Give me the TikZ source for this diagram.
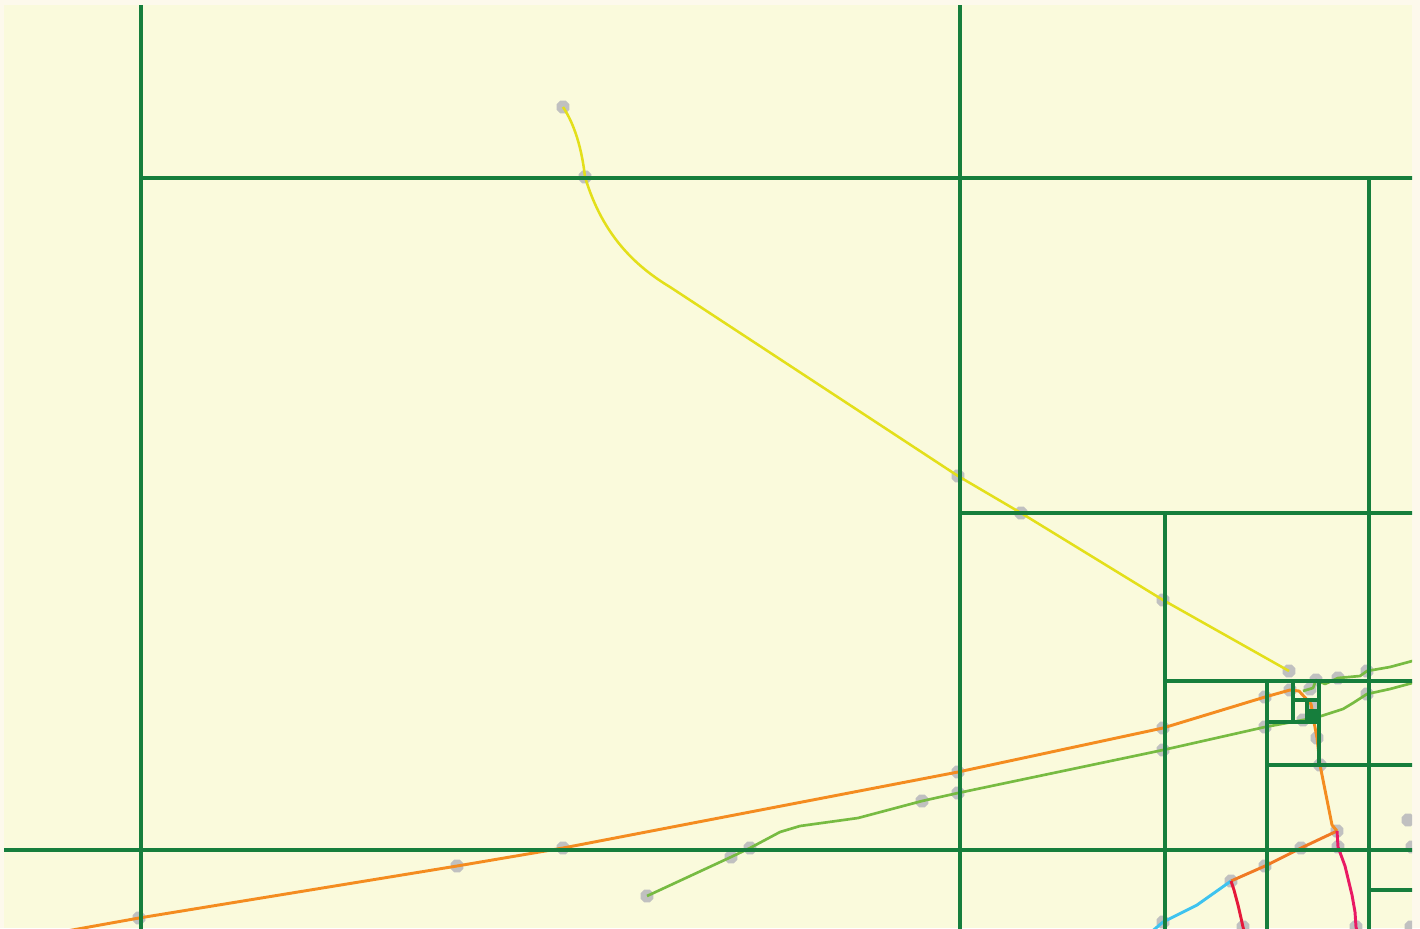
\documentclass[tikz,border=0pt]{standalone}
\usetikzlibrary{shapes.geometric}
\begin{document}
\begin{tikzpicture}[x=0.75pt,y=-0.75pt]
\definecolor{outerbg}{HTML}{FDF9EC}
\definecolor{innerbg}{HTML}{FAFADC}
\definecolor{gridgreen}{HTML}{167E3C}
\definecolor{markgray}{HTML}{C0C0C0}
\definecolor{lyellow}{HTML}{E3DF1A}
\definecolor{lorange}{HTML}{F48C20}
\definecolor{lorange2}{HTML}{F07A24}
\definecolor{lgreen}{HTML}{77BB42}
\definecolor{lblue}{HTML}{3EC3EF}
\definecolor{lred}{HTML}{E5193A}
\definecolor{lpink}{HTML}{E91A63}
\tikzset{
  mk/.style={regular polygon, regular polygon sides=8, fill=markgray, inner sep=0pt, minimum size=10.5pt},
  grid/.style={draw=gridgreen, line width=2.6pt},
  route/.style={line width=2.2pt, line join=round},
  yroute/.style={route, draw=lyellow, line width=1.9pt},
  oroute/.style={route, draw=lorange},
  oroute2/.style={route, draw=lorange2},
  groute/.style={route, draw=lgreen, line width=2pt},
  broute/.style={route, draw=lblue},
  rroute/.style={route, draw=lred},
  proute/.style={route, draw=lpink},
}
\fill[outerbg] (0,0) rectangle (1420,928);
\useasboundingbox (0,0) rectangle (1420,928);
\fill[innerbg] (4,5) rectangle (1412,928);
\begin{scope}
\clip (4,5) rectangle (1412,928);
% markers
\node[mk] (y1) at (563,107) {};
\node[mk] (y2) at (585,177) {};
\node[mk] (y3) at (958,476) {};
\node[mk] (y4) at (1021,513) {};
\node[mk] (y5) at (1163,600) {};
\node[mk] (y6) at (1289,671) {};
\node[mk] (o1) at (139,918) {};
\node[mk] (o2) at (457,866) {};
\node[mk] (o3) at (563,848) {};
\node[mk] (o4) at (958,772) {};
\node[mk] (o5) at (1163,728) {};
\node[mk] (o6) at (1265,697) {};
\node[mk] (o7) at (1290,690) {};
\node[mk] (o8) at (1317,738) {};
\node[mk] (o9) at (1320,765) {};
\node[mk] (o10) at (1337,831) {};
\node[mk] (o11) at (1301,848) {};
\node[mk] (o12) at (1265,866) {};
\node[mk] (o13) at (1231,881) {};
\node[mk] (g1) at (647,896) {};
\node[mk] (g2) at (731,857) {};
\node[mk] (g3) at (750,848) {};
\node[mk] (g4) at (922,801) {};
\node[mk] (g5) at (958,793) {};
\node[mk] (g6) at (1163,750) {};
\node[mk] (g7) at (1265,727) {};
\node[mk] (g8) at (1367,694) {};
\node[mk] (h1) at (1316,680) {};
\node[mk] (h2) at (1338,678) {};
\node[mk] (h3) at (1367,671) {};
\node[mk] (p1) at (1338,847) {};
\node[mk] (p2) at (1356,927) {};
\node[mk] (r1) at (1243,927) {};
\node[mk] (b1) at (1163,922) {};
\node[mk] (x1) at (1310,689) {};
\node[mk] (x2) at (1303,720) {};
\node[mk] (x3) at (1314,706) {};
\node[mk] (e1) at (1408,820) {};
\node[mk] (e2) at (1412,847) {};
\node[mk] (e3) at (1411,927) {};
\coordinate (ostart) at (50,934);
\coordinate (gend) at (1416,682);
\coordinate (hend) at (1416,660);
\coordinate (hstart) at (1303,691);
\coordinate (bstart) at (1150,933);
\coordinate (rend) at (1245,935);
\coordinate (pend) at (1358,935);
% routes
\draw[yroute] (y1.center) .. controls (575,125) and (582,150) .. (y2.center)
  .. controls (601,230) and (630,263) .. (670,287) -- (y3.center) -- (y4.center) -- (y5.center) -- (y6.center);
\draw[oroute] (ostart) -- (o1.center) -- (o2.center) -- (o3.center) -- (o4.center) -- (o5.center) -- (o6.center) -- (o7.center) -- (1299,691) -- (1311,704) -- (1314,722) -- (o8.center) -- (o9.center) -- (1332,825) -- (o10.center);
\draw[oroute2] (o10.center) -- (o11.center) -- (o12.center) -- (o13.center);
\draw[groute] (g1.center) -- (g2.center) -- (g3.center) -- (780,832) -- (800,826) -- (858,818) -- (g4.center) -- (g5.center) -- (g6.center) -- (g7.center) -- (x2.center) -- (1315,718) -- (1343,709) -- (1353,703) -- (g8.center) -- (1390,689) -- (gend);
\draw[groute] (hstart) -- (1313,688) -- (h1.center) -- (1325,684) -- (h2.center) -- (1360,676) -- (h3.center) -- (1390,667) -- (hend);
\draw[broute] (bstart) -- (b1.center) -- (1197,905) -- (o13.center);
\draw[rroute] (o13.center) -- (1234,890) -- (1238,905) -- (1241,918) -- (r1.center) -- (rend);
\draw[proute] (o10.center) -- (p1.center) -- (1345,866) -- (1352,895) -- (1355,912) -- (p2.center) -- (pend);
% grid
\draw[grid] (141,0) -- (141,930);
\draw[grid] (960,0) -- (960,930);
\draw[grid] (141,178) -- (1415,178);
\draw[grid] (0,850) -- (1415,850);
\draw[grid] (1369,178) -- (1369,930);
\draw[grid] (960,513) -- (1415,513);
\draw[grid] (1165,513) -- (1165,930);
\draw[grid] (1165,681) -- (1415,681);
\draw[grid] (1267,681) -- (1267,930);
\draw[grid] (1267,765) -- (1415,765);
\draw[grid] (1369,890) -- (1415,890);
\draw[grid] (1293,681) -- (1293,722);
\draw[grid] (1319,681) -- (1319,765);
\draw[grid] (1293,700) -- (1319,700);
\draw[grid] (1267,722) -- (1319,722);
\draw[grid] (1307,700) -- (1307,722);
\fill[gridgreen] (1306,709) rectangle (1319,722);
\end{scope}
\end{tikzpicture}
\end{document}
